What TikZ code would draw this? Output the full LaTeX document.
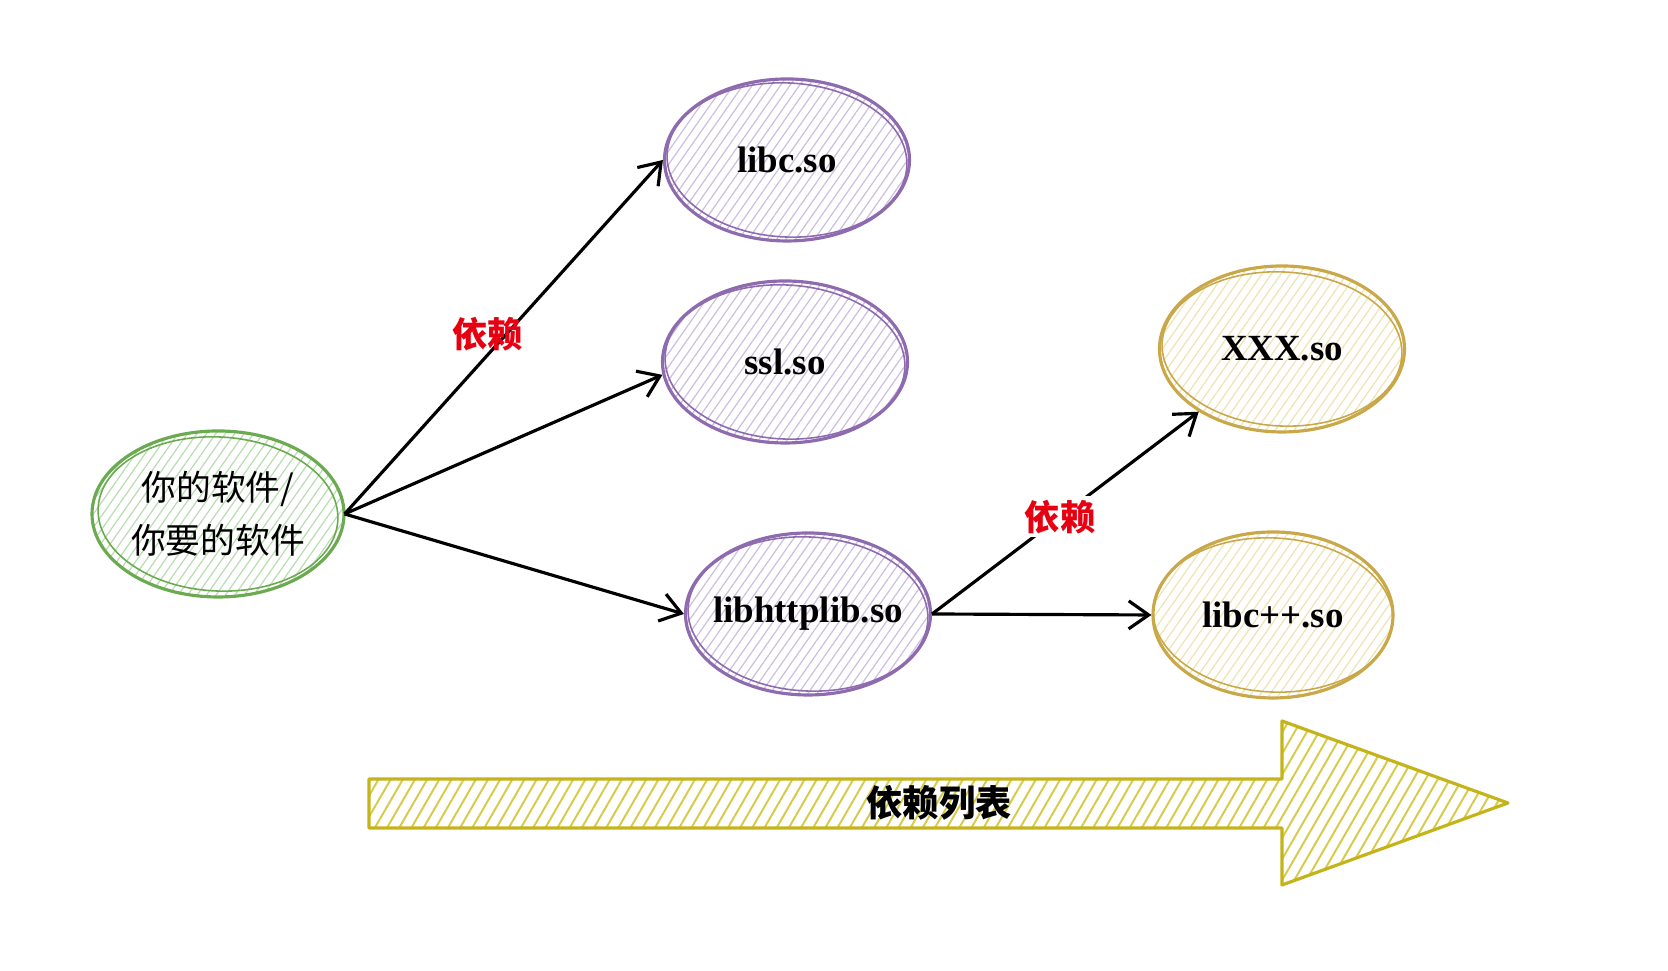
\documentclass[tikz,border=0pt]{standalone}
\usepackage{fontspec}
\setmainfont{Liberation Serif}
\newfontfamily\cjk{Noto Sans CJK SC}
\usepackage{tikz}
\usetikzlibrary{positioning, calc, shapes.geometric, patterns.meta, arrows.meta}
\definecolor{SoftLine}{HTML}{6BAA50}
\definecolor{SoftHatch}{HTML}{B9DDB2}
\definecolor{LibLine}{HTML}{8E6BAF}
\definecolor{LibHatch}{HTML}{CDBFE0}
\definecolor{ExtLine}{HTML}{C9A84A}
\definecolor{ExtHatch}{HTML}{EEE3B4}
\definecolor{ListLine}{HTML}{C4B41A}
\definecolor{ListHatch}{HTML}{D6CA48}
\definecolor{DepRed}{HTML}{E60012}

\begin{document}
\begin{tikzpicture}[
    blob/.style={ellipse, line width=0.9pt, inner xsep=-4pt, inner ysep=0pt,
                 minimum width=2.45cm, minimum height=1.62cm,
                 font=\fontsize{10.5}{12}\selectfont\bfseries},
    softnode/.style={blob, draw=SoftLine, minimum width=2.52cm, minimum height=1.66cm,
                 pattern={Lines[angle=55, distance=2.2pt, line width=0.35pt]}, pattern color=SoftHatch,
                 align=center, font=\cjk\fontsize{9.9}{15}\selectfont},
    libnode/.style={blob, draw=LibLine,
                 pattern={Lines[angle=55, distance=2.2pt, line width=0.35pt]}, pattern color=LibHatch},
    extnode/.style={blob, draw=ExtLine, minimum height=1.66cm,
                 pattern={Lines[angle=55, distance=2.2pt, line width=0.35pt]}, pattern color=ExtHatch},
    dep/.style={-{Straight Barb[length=2mm, width=2.8mm, line width=0.9pt]}, line width=0.9pt, black},
    deplabel/.style={text=DepRed, font=\cjk\fontsize{10}{12}\selectfont\bfseries, inner sep=1pt}
  ]
  \useasboundingbox (0,0) rectangle (16.68,9.71);

  %% Software and its libraries
  \node[softnode] (soft) at (2.18,4.57) {你的软件/\\你要的软件};
  \node[libnode] (libc) at (7.87,8.11) {libc.so};
  \node[libnode] (ssl) at (7.85,6.09) {ssl.so};
  \node[libnode] (httplib) at (8.08,3.57) {libhttplib.so};
  \node[extnode] (xxx) at (12.82,6.22) {XXX.so};
  \node[extnode, minimum width=2.40cm] (libcpp) at (12.73,3.56) {libc++.so};

  %% Second sketchy outline
  \foreach \n/\c in {soft/SoftLine, libc/LibLine, ssl/LibLine, httplib/LibLine, xxx/ExtLine, libcpp/ExtLine}
    \draw[\c, line width=0.45pt, rotate around={-3:(\n.center)}] (\n.center) ellipse (1.2 and 0.77);

  %% Dependencies
  \draw[dep] (soft.east) -- node[deplabel, pos=0.48, xshift=-1mm, yshift=1mm] {依赖} (libc.west);
  \draw[dep] (soft.east) -- (ssl.186);
  \draw[dep] (soft.east) -- (httplib.west);
  \draw[dep] (httplib.east) -- node[deplabel, fill=white, pos=0.48] {依赖} (xxx.217);
  \draw[dep] (httplib.east) -- (libcpp.west);

  %% Dependency list arrow
  \draw[ListLine, line width=0.9pt, line join=round,
        pattern={Lines[angle=60, distance=3pt, line width=0.55pt]}, pattern color=ListHatch]
    (3.69,1.92) -- (12.82,1.92) -- (12.82,2.50) -- (15.08,1.68) -- (12.82,0.86)
    -- (12.82,1.43) -- (3.69,1.43) -- cycle;
  \node[font=\cjk\fontsize{10.3}{12}\selectfont\bfseries] (list) at (9.39,1.68) {依赖列表};
\end{tikzpicture}
\end{document}
